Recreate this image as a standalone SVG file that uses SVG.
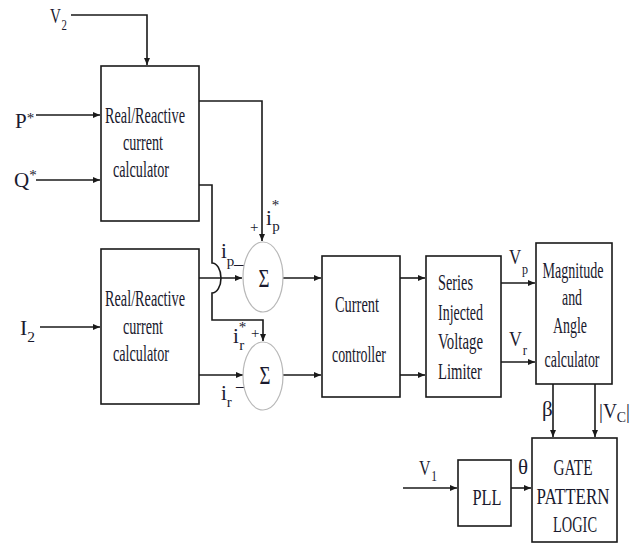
<svg xmlns="http://www.w3.org/2000/svg" width="640" height="544" viewBox="0 0 640 544">
<style>
.bx{fill:#fff;stroke:#1a1a1a;stroke-width:1.6}
.sum{fill:#fff;stroke:#b8b8b8;stroke-width:1.2}
.ln{fill:none;stroke:#1a1a1a;stroke-width:1.6}
.ar{marker-end:url(#ah)}
text{font-family:"Liberation Serif","Times New Roman",serif;fill:#1a1a2e;font-size:24px}
.m{text-anchor:middle}
.s{font-size:15px}
.l{font-size:21px}
</style>
<defs>
<marker id="ah" markerUnits="userSpaceOnUse" markerWidth="8" markerHeight="6" refX="7" refY="3" orient="auto">
<path d="M0,0 L7,3 L0,6 z" fill="#1a1a1a"/>
</marker>
</defs>
<rect width="640" height="544" fill="#fff"/>
<g id="connectors">
<path class="ln ar" d="M71,15 H147 V65"/>
<path class="ln ar" d="M36,115 H100"/>
<path class="ln ar" d="M36,180 H100"/>
<path class="ln ar" d="M199,101 H262 V241"/>
<path class="ln ar" d="M199,185 H212 V263 A9,15 0 0 1 212,293 V320 H263 V341"/>
<path class="ln ar" d="M199,278 H242"/>
<path class="ln ar" d="M40,327 H100"/>
<path class="ln ar" d="M199,375 H243"/>
<path class="ln ar" d="M283,278 H321"/>
<path class="ln ar" d="M283,375 H321"/>
<path class="ln ar" d="M400,278 H425"/>
<path class="ln ar" d="M400,375 H425"/>
<path class="ln ar" d="M501,283 H535"/>
<path class="ln ar" d="M501,362 H535"/>
<path class="ln ar" d="M553,384 V437"/>
<path class="ln ar" d="M595,384 V437"/>
<path class="ln ar" d="M403,488 H457"/>
<path class="ln ar" d="M511,488 H531"/>
</g>
<g id="labels">
<text x="50" y="23" class="l" textLength="17" lengthAdjust="spacingAndGlyphs">V<tspan class="s" dx="1" dy="7">2</tspan></text>
<text x="15" y="128" class="l">P<tspan class="s" dy="-5">*</tspan></text>
<text x="14" y="187" class="l">Q<tspan class="s" dy="-7">*</tspan></text>
<text x="20" y="335" class="l" textLength="15" lengthAdjust="spacingAndGlyphs">I<tspan class="s" dy="7">2</tspan></text>
<text x="266" y="225" class="l">i<tspan class="s" dy="-15">*</tspan><tspan class="s" dx="-7" dy="21">p</tspan></text>
<text x="250" y="232" class="s">+</text>
<text x="221" y="258" class="l">i<tspan class="s" dy="8">p</tspan></text>
<text x="234" y="271" class="l">–</text>
<text x="233" y="343" class="l">i<tspan class="s" dy="-11">*</tspan><tspan class="s" dx="-7" dy="18">r</tspan></text>
<text x="251" y="338" class="s">+</text>
<text x="221" y="400" class="l">i<tspan class="s" dy="7">r</tspan></text>
<text x="236" y="393" class="l">–</text>
<text x="509" y="264" class="l" textLength="19" lengthAdjust="spacingAndGlyphs">V<tspan class="s" dx="1" dy="10">p</tspan></text>
<text x="509" y="346" class="l" textLength="18" lengthAdjust="spacingAndGlyphs">V<tspan class="s" dx="1" dy="9">r</tspan></text>
<text x="542" y="416" class="l">β</text>
<text x="599" y="418" class="l" textLength="31" lengthAdjust="spacingAndGlyphs">|V<tspan class="s" dy="4">C</tspan><tspan dy="-4">|</tspan></text>
<text x="419" y="475" class="l" textLength="18" lengthAdjust="spacingAndGlyphs">V<tspan class="s" dx="1" dy="6">1</tspan></text>
<text x="518" y="474" class="l">θ</text>
</g>
<g id="calc-top">
<rect class="bx" x="101" y="66" width="98" height="155"/>
<text class="m" x="145" y="123" textLength="80" lengthAdjust="spacingAndGlyphs">Real/Reactive</text>
<text class="m" x="143" y="150" textLength="40" lengthAdjust="spacingAndGlyphs">current</text>
<text class="m" x="141" y="177" textLength="56" lengthAdjust="spacingAndGlyphs">calculator</text>
</g>
<g id="calc-bottom">
<rect class="bx" x="101" y="249" width="98" height="155"/>
<text class="m" x="145" y="306" textLength="80" lengthAdjust="spacingAndGlyphs">Real/Reactive</text>
<text class="m" x="143" y="334" textLength="40" lengthAdjust="spacingAndGlyphs">current</text>
<text class="m" x="141" y="361" textLength="56" lengthAdjust="spacingAndGlyphs">calculator</text>
</g>
<g id="sum-p">
<ellipse class="sum" cx="263" cy="277" rx="20" ry="35"/>
<text class="m" x="264" y="287" style="font-size:25px" textLength="11" lengthAdjust="spacingAndGlyphs">Σ</text>
</g>
<g id="sum-r">
<ellipse class="sum" cx="263" cy="376" rx="20" ry="34"/>
<text class="m" x="265" y="384" style="font-size:25px" textLength="11" lengthAdjust="spacingAndGlyphs">Σ</text>
</g>
<g id="current-controller">
<rect class="bx" x="322" y="256" width="78" height="141"/>
<text class="m" x="357" y="312" textLength="44" lengthAdjust="spacingAndGlyphs">Current</text>
<text class="m" x="359" y="362" textLength="54" lengthAdjust="spacingAndGlyphs">controller</text>
</g>
<g id="limiter">
<rect class="bx" x="426" y="256" width="75" height="141"/>
<text x="438" y="290" textLength="35" lengthAdjust="spacingAndGlyphs">Series</text>
<text x="438" y="320" textLength="45" lengthAdjust="spacingAndGlyphs">Injected</text>
<text x="438" y="349" textLength="45" lengthAdjust="spacingAndGlyphs">Voltage</text>
<text x="438" y="379" textLength="44" lengthAdjust="spacingAndGlyphs">Limiter</text>
</g>
<g id="mag-angle">
<rect class="bx" x="536" y="243" width="76" height="141"/>
<text class="m" x="573" y="278" textLength="61" lengthAdjust="spacingAndGlyphs">Magnitude</text>
<text class="m" x="572" y="305" textLength="20" lengthAdjust="spacingAndGlyphs">and</text>
<text class="m" x="570" y="333" textLength="34" lengthAdjust="spacingAndGlyphs">Angle</text>
<text class="m" x="572" y="367" textLength="55" lengthAdjust="spacingAndGlyphs">calculator</text>
</g>
<g id="pll">
<rect class="bx" x="458" y="460" width="53" height="66"/>
<text class="m" x="487" y="505" textLength="29" lengthAdjust="spacingAndGlyphs">PLL</text>
</g>
<g id="gate-logic">
<rect class="bx" x="532" y="438" width="85" height="104"/>
<text class="m" x="573" y="475" textLength="39" lengthAdjust="spacingAndGlyphs">GATE</text>
<text class="m" x="573" y="504" textLength="73" lengthAdjust="spacingAndGlyphs">PATTERN</text>
<text class="m" x="575" y="532" textLength="44" lengthAdjust="spacingAndGlyphs">LOGIC</text>
</g>
</svg>
